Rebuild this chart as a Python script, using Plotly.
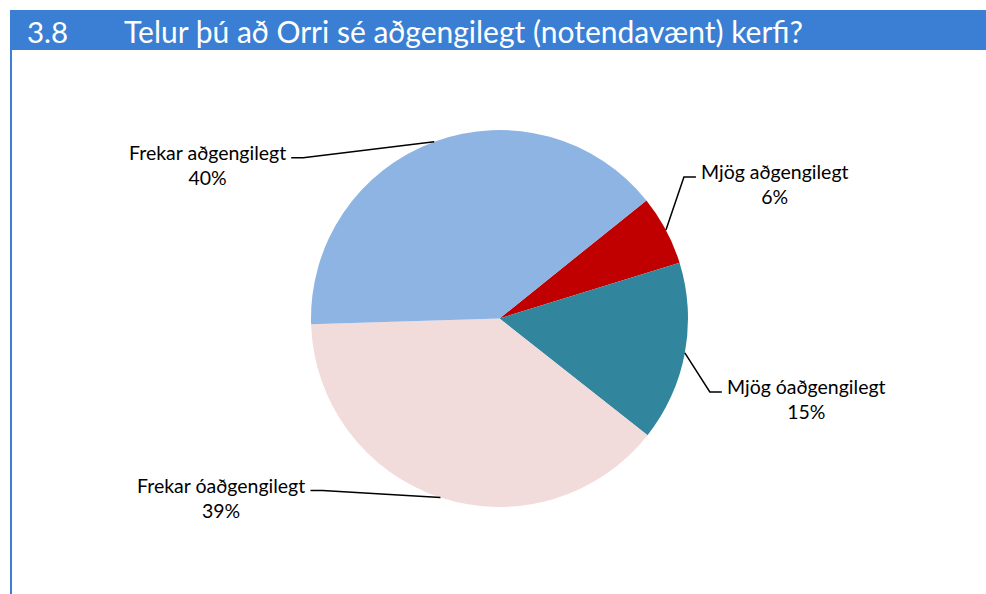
import math
import plotly.graph_objects as go

TITLE_NUM = '3.8'
TITLE = 'Telur þú að Orri sé aðgengilegt (notendavænt) kerfi?'
CATEGORIES = ['Mjög aðgengilegt', 'Mjög óaðgengilegt',
              'Frekar óaðgengilegt', 'Frekar aðgengilegt']
VALUES = [6.0, 15.4, 38.9, 39.7]
COLORS = ['#C00000', '#31859C', '#F2DCDB', '#8EB4E3']

HEADER_CLR = '#3A7FD3'
FONT = 'Lato, Open Sans, sans-serif'

W, H = 986, 594
CX, CY, R = 499.5, 318.5, 188.5   # pie centre / radius in px
START = 51.2                        # first slice starts here (deg, clockwise from 12 o'clock)
# elbow offset from slice edge (px) and side of label
LEADER = [(18, -53, 'r'), (25, 39, 'r'), (-118, -7, 'l'), (-131, 16, 'l')]
STUB = 12


def px(x):
    return x / W


def py(y):
    return 1 - y / H


fig = go.Figure()
fig.add_trace(go.Pie(
    labels=CATEGORIES, values=VALUES, sort=False,
    direction='clockwise', rotation=START,
    marker=dict(colors=COLORS, line=dict(width=0)),
    textinfo='none', hoverinfo='label+percent',
    domain=dict(x=[px(CX - R), px(CX + R)], y=[py(CY + R), py(CY - R)]),
))

shapes = [
    dict(type='rect', xref='paper', yref='paper', x0=px(10), x1=1, y0=py(50), y1=py(10),
         fillcolor=HEADER_CLR, line=dict(width=0)),
    dict(type='rect', xref='paper', yref='paper', x0=px(10), x1=px(12), y0=0, y1=py(50),
         fillcolor=HEADER_CLR, line=dict(width=0)),
]
annotations = [
    dict(text=TITLE_NUM, x=px(25), y=py(31), xref='paper', yref='paper',
         xanchor='left', yanchor='middle', showarrow=False,
         font=dict(size=29.5, color='white', family=FONT)),
    dict(text=TITLE, x=px(122), y=py(31), xref='paper', yref='paper',
         xanchor='left', yanchor='middle', showarrow=False,
         font=dict(size=30, color='white', family=FONT)),
]

total = sum(VALUES)
cum = 0
for cat, v, (dx, dy, side) in zip(CATEGORIES, VALUES, LEADER):
    a = math.radians(START + 360 * (cum + v / 2) / total)
    cum += v
    ex, ey = CX + R * math.sin(a), CY - R * math.cos(a)
    bx, by = ex + dx, ey + dy
    sx = bx + (STUB if side == 'r' else -STUB)
    shapes.append(dict(type='path', xref='paper', yref='paper',
                       path=f'M {px(ex)},{py(ey)} L {px(bx)},{py(by)} L {px(sx)},{py(by)}',
                       line=dict(color='black', width=1.5)))
    pct = f'{round(v / total * 100)}%'
    tx = sx + 3 if side == 'r' else sx - 3
    annotations.append(dict(
        text=f'{cat}<br>{pct}', x=px(tx), y=py(by + 7), xref='paper', yref='paper',
        xanchor='left' if side == 'r' else 'right', yanchor='middle', align='center',
        showarrow=False, font=dict(size=19.5, color='black', family=FONT)))

fig.update_layout(
    width=W, height=H, margin=dict(l=0, r=0, t=0, b=0),
    paper_bgcolor='white', plot_bgcolor='white',
    showlegend=False, shapes=shapes, annotations=annotations,
)
fig.write_html('out.html', config={'displayModeBar': False},
               post_script="document.body.style.margin='0';")
